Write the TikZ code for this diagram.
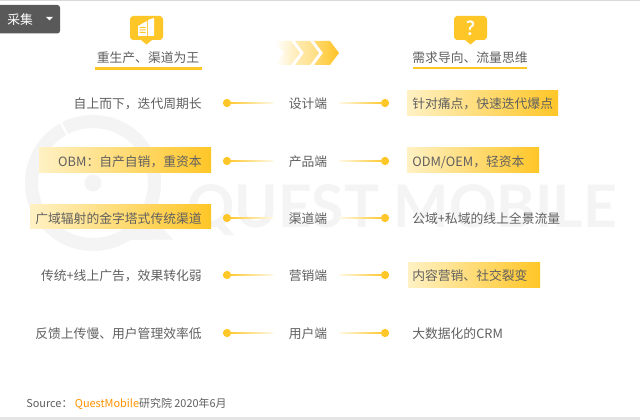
\documentclass[tikz,border=0pt]{standalone}
\usepackage{fontspec}
\setmainfont{Noto Sans CJK SC}[BoldFont={Noto Sans CJK SC}]
\newfontfamily\latinfont{Lato}
\usetikzlibrary{shadings,fadings}
\definecolor{txt}{HTML}{606060}
\definecolor{gold}{HTML}{FFC627}
\definecolor{pale}{HTML}{FFF1C4}
\definecolor{wm}{HTML}{F4F4F5}
\tikzset{
 x=0.75pt,y=-0.75pt,
 lbl/.style={font=\fontsize{9.6}{11}\selectfont,text=txt,inner sep=0pt},
 leftlbl/.style={lbl,anchor=east},
 rightlbl/.style={lbl,anchor=west},
 midlbl/.style={lbl,anchor=center},
 dot/.style={circle,fill=gold,minimum size=6.2pt,inner sep=0pt},
 band/.style={left color=pale,right color=gold,draw=none},
 head/.style={lbl},
 bar/.style={fill=gold,draw=none},
}
\newcommand{\rowlinks}[2]{%
 \node[dot] (dl#1) at (227,#2) {};
 \node[dot] (dr#1) at (385,#2) {};
 \coordinate (tl#1) at (273,#2);
 \coordinate (tr#1) at (339,#2);
 \shade[left color=gold,right color=gold!12] ([yshift=.6pt]dl#1.center) rectangle ([yshift=-.6pt]tl#1);
 \shade[left color=gold!12,right color=gold] ([yshift=.6pt]tr#1) rectangle ([yshift=-.6pt]dr#1.center);
}
\begin{document}
\begin{tikzpicture}
\useasboundingbox (0,0) rectangle (640,420);
\fill[white] (0,0) rectangle (640,420);
% frame lines
\fill[black!15] (0,0) rectangle (640,1.5);
\fill[black!10] (0,417) rectangle (640,420);
% watermark
\draw[wm,line width=9.8pt] (93,183) circle (61.5);
\fill[wm] (93,183) circle (8.5);
\fill[wm] (128,240) -- (173,239.5) -- (150,214) -- cycle;
\draw[white,line width=1.6pt] (67.5,135) -- (60,121);
\node[anchor=base west,inner sep=0pt,text=wm,font=\latinfont\bfseries\fontsize{44}{44}\selectfont] (wmark) at (187,228) {QUEST MOBILE};
% selector
\fill[black!65] (-6,5) [rounded corners=2pt] rectangle (60,33.5);
\node[anchor=west,inner sep=0pt,text=white,font=\fontsize{9.6}{11}\selectfont] (sel) at (7,20) {采集};
\fill[white] (46,17) -- (53,17) -- (49.5,20.5) -- cycle;
% icons
\fill[gold,rounded corners=2.5pt] (130,16) rectangle (163,40);
\fill[gold] (141,40) -- (152,40) -- (146.5,44.5) -- cycle;
\fill[white] (138,26) -- (147,21) -- (147,36) -- (138,36) -- cycle;
\fill[white] (148,20) -- (154,18) -- (154,36) -- (148,36) -- cycle;
\fill[gold] (139.5,27) rectangle (145.5,28) (139.5,29.5) rectangle (145.5,30.5) (139.5,32) rectangle (145.5,33);
\fill[gold,rounded corners=2.5pt] (454,16) rectangle (487,40);
\fill[gold] (465,40) -- (476,40) -- (470.5,44.5) -- cycle;
\node[inner sep=0pt,text=white,font=\latinfont\bfseries\fontsize{15}{15}\selectfont] (q) at (470.5,28) {?};
% heads
\node[head] (h1) at (148,58) {重生产、渠道为王};
\fill[bar] (95,67.5) rectangle (202,70.5);
\node[head] (h2) at (470,58) {需求导向、流量思维};
\fill[bar] (413,67) rectangle (527,69.5);
% chevrons
\shade[left color=white,right color=gold!38!white]
 (275,41) -- (291,41) -- (300,53) -- (291,65) -- (275,65) -- (284,53) -- cycle;
\shade[left color=gold!35!white,right color=gold!60!white]
 (295,41) -- (310,41) -- (319,53) -- (310,65) -- (295,65) -- (304,53) -- cycle;
\shade[left color=gold!65!white,right color=gold!95!orange]
 (314,41) -- (330,41) -- (339,53) -- (330,65) -- (314,65) -- (323,53) -- cycle;
% bands
\shade[band] (407,91) rectangle (558,116);
\shade[band] (39,148) rectangle (211,173);
\shade[band] (407,148) rectangle (539,173);
\shade[band] (30,205) rectangle (211,229);
\shade[band] (408,263) rectangle (540,288);
% rows
\rowlinks{1}{103}\rowlinks{2}{161}\rowlinks{3}{218}\rowlinks{4}{275}\rowlinks{5}{333}
\node[leftlbl] (a1) at (202,104) {自上而下，迭代周期长};
\node[leftlbl] (a2) at (202,162) {OBM：自产自销，重资本};
\node[leftlbl] (a3) at (202,219) {广域辐射的金字塔式传统渠道};
\node[leftlbl] (a4) at (202,276) {传统+线上广告，效果转化弱};
\node[leftlbl] (a5) at (202,334) {反馈上传慢、用户管理效率低};
\node[midlbl] (m1) at (308,104) {设计端};
\node[midlbl] (m2) at (308,162) {产品端};
\node[midlbl] (m3) at (308,219) {渠道端};
\node[midlbl] (m4) at (308,276) {营销端};
\node[midlbl] (m5) at (308,334) {用户端};
\node[rightlbl] (b1) at (412,104) {针对痛点，快速迭代爆点};
\node[rightlbl] (b2) at (412,162) {ODM/OEM，轻资本};
\node[rightlbl] (b3) at (412,219) {公域+私域的线上全景流量};
\node[rightlbl] (b4) at (412,276) {内容营销、社交裂变};
\node[rightlbl] (b5) at (412,334) {大数据化的CRM};
% source
\node[anchor=west,inner sep=0pt,font=\fontsize{8.2}{10}\selectfont,text=txt] (src) at (26,404) {Source： {\color{orange!85!yellow}QuestMobile}研究院 2020年6月};
\end{tikzpicture}
\end{document}
